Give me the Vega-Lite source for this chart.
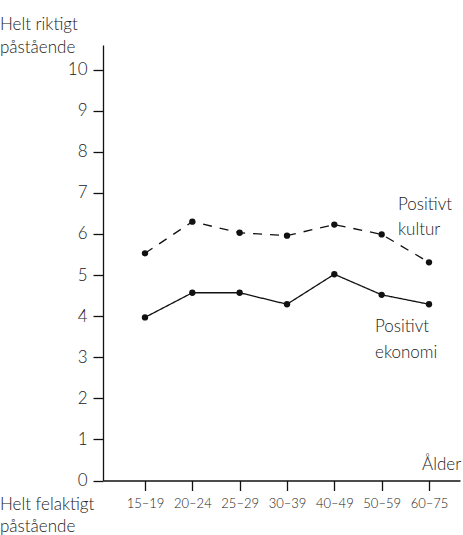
{
  "$schema": "https://vega.github.io/schema/vega-lite/v6.json",
  "width": 357,
  "height": 435.5,
  "autosize": "none",
  "padding": {"left": 103, "top": 45, "right": 3, "bottom": 54.5},
  "config": {
    "font": "Lato",
    "view": {"stroke": null},
    "axis": {"domainColor": "#111", "tickColor": "#111", "labelColor": "#222", "grid": false, "domainWidth": 1.3, "tickWidth": 1.3, "labelFont": "Lato", "labelFontWeight": 300},
    "text": {"font": "Lato", "color": "#222", "fontWeight": 300}
  },
  "datasets": {
    "scores": [
      {"age": "15–19", "i": 0, "series": "kultur", "value": 5.53},
      {"age": "20–24", "i": 1, "series": "kultur", "value": 6.30},
      {"age": "25–29", "i": 2, "series": "kultur", "value": 6.03},
      {"age": "30–39", "i": 3, "series": "kultur", "value": 5.96},
      {"age": "40–49", "i": 4, "series": "kultur", "value": 6.23},
      {"age": "50–59", "i": 5, "series": "kultur", "value": 5.99},
      {"age": "60–75", "i": 6, "series": "kultur", "value": 5.31},
      {"age": "15–19", "i": 0, "series": "ekonomi", "value": 3.97},
      {"age": "20–24", "i": 1, "series": "ekonomi", "value": 4.57},
      {"age": "25–29", "i": 2, "series": "ekonomi", "value": 4.57},
      {"age": "30–39", "i": 3, "series": "ekonomi", "value": 4.29},
      {"age": "40–49", "i": 4, "series": "ekonomi", "value": 5.02},
      {"age": "50–59", "i": 5, "series": "ekonomi", "value": 4.52},
      {"age": "60–75", "i": 6, "series": "ekonomi", "value": 4.29}
    ],
    "one": [{"n": 1}]
  },
  "layer": [
    {
      "data": {"name": "scores"},
      "mark": {"type": "line", "color": "#111", "strokeWidth": 1.3},
      "encoding": {
        "x": {
          "field": "i", "type": "quantitative",
          "scale": {"domain": [-0.887, 6.655], "nice": false, "zero": false},
          "axis": {"title": null, "values": [0, 1, 2, 3, 4, 5, 6], "tickSize": 10, "labelPadding": 7, "labelFontSize": 13,
            "labelExpr": "['15–19','20–24','25–29','30–39','40–49','50–59','60–75'][datum.value]"}
        },
        "y": {
          "field": "value", "type": "quantitative",
          "scale": {"domain": [0, 10.6], "nice": false, "zero": true},
          "axis": {"title": null, "values": [0, 1, 2, 3, 4, 5, 6, 7, 8, 9, 10], "tickSize": 10, "labelPadding": 6, "labelFontSize": 17}
        },
        "strokeDash": {"field": "series", "type": "nominal", "scale": {"domain": ["kultur", "ekonomi"], "range": [[9, 8], [1, 0]]}, "legend": null}
      }
    },
    {
      "data": {"name": "scores"},
      "mark": {"type": "point", "filled": true, "color": "#111", "size": 40, "opacity": 1},
      "encoding": {
        "x": {"field": "i", "type": "quantitative"},
        "y": {"field": "value", "type": "quantitative"}
      }
    },
    {
      "data": {"name": "one"},
      "mark": {"type": "text", "align": "left", "baseline": "middle", "fontSize": 17, "lineHeight": 25, "text": ["Positivt", "kultur"]},
      "encoding": {"x": {"datum": 5.345, "type": "quantitative"}, "y": {"datum": 6.7, "type": "quantitative"}}
    },
    {
      "data": {"name": "one"},
      "mark": {"type": "text", "align": "left", "baseline": "middle", "fontSize": 17, "lineHeight": 26, "text": ["Positivt", "ekonomi"]},
      "encoding": {"x": {"datum": 4.86, "type": "quantitative"}, "y": {"datum": 3.735, "type": "quantitative"}}
    },
    {
      "data": {"name": "one"},
      "mark": {"type": "text", "align": "right", "baseline": "middle", "fontSize": 17, "text": "Ålder"},
      "encoding": {"x": {"datum": 6.68, "type": "quantitative"}, "y": {"datum": 0.377, "type": "quantitative"}}
    },
    {
      "data": {"name": "one"},
      "mark": {"type": "text", "align": "left", "baseline": "middle", "fontSize": 17, "lineHeight": 23, "text": ["Helt riktigt", "påstående"]},
      "encoding": {"x": {"datum": -3.064, "type": "quantitative"}, "y": {"datum": 11.08, "type": "quantitative"}}
    },
    {
      "data": {"name": "one"},
      "mark": {"type": "text", "align": "left", "baseline": "middle", "fontSize": 17, "lineHeight": 22, "text": ["Helt felaktigt", "påstående"]},
      "encoding": {"x": {"datum": -3.064, "type": "quantitative"}, "y": {"datum": -0.6, "type": "quantitative"}}
    }
  ]
}
